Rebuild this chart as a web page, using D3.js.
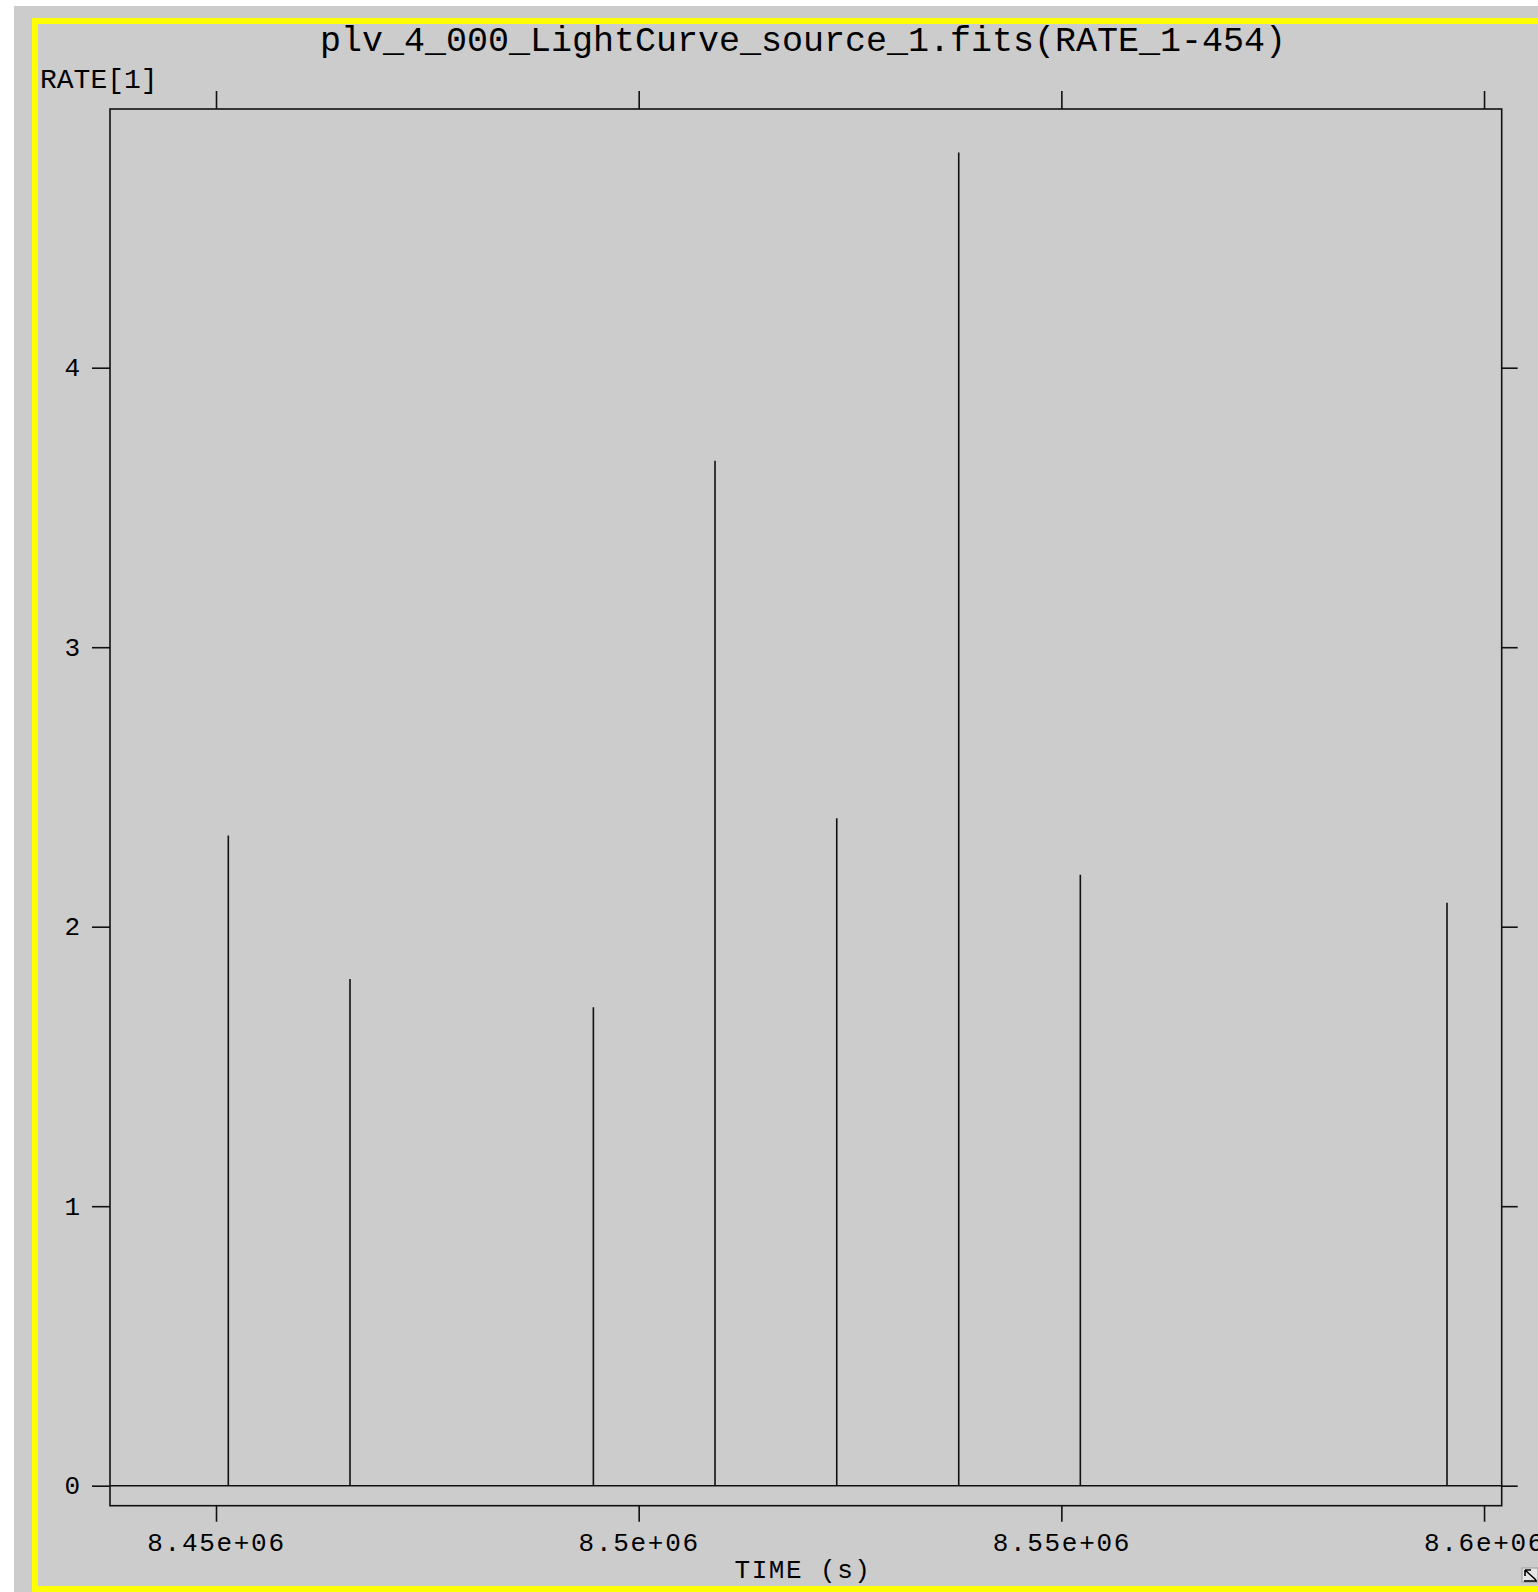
<!DOCTYPE html>
<html>
<head>
<meta charset="utf-8">
<script src="https://cdn.jsdelivr.net/npm/d3@7"></script>
<style>
  html, body { margin: 0; padding: 0; background: #ffffff; }
  svg { display: block; }
</style>
</head>
<body>
<script>
// ---- Data ----
const title = "plv_4_000_LightCurve_source_1.fits(RATE_1-454)";
const yLabel = "RATE[1]";
const xLabel = "TIME (s)";
const time = [8451455, 8465850, 8494640, 8509030, 8523430, 8537860, 8552245, 8595620];
const rate = [2.326, 1.813, 1.712, 3.667, 2.388, 4.770, 2.186, 2.086];
const xTickValues = [8.45e6, 8.5e6, 8.55e6, 8.6e6];
const xTickLabels = ["8.45e+06", "8.5e+06", "8.55e+06", "8.6e+06"];
const yTickValues = [0, 1, 2, 3, 4];
const yTickLabels = ["0", "1", "2", "3", "4"];

const W = 1538, H = 1592;
const font = "'Liberation Mono', 'DejaVu Sans Mono', monospace";

const svg = d3.select("body").append("svg").attr("width", W).attr("height", H);

// background: white strips top/left, gray panel
svg.append("rect").attr("x", 0).attr("y", 0).attr("width", W).attr("height", H).attr("fill", "#ffffff");
svg.append("rect").attr("x", 14).attr("y", 6).attr("width", W - 14).attr("height", H - 6).attr("fill", "#cccccc");
// yellow border
svg.append("rect").attr("x", 35).attr("y", 21).attr("width", 1520).attr("height", 1568)
  .attr("fill", "none").attr("stroke", "#ffff00").attr("stroke-width", 6);

// plot frame
const L = 110, R = 1501.7, T = 109, B = 1505.7;
const x = d3.scaleLinear().domain([8437460, 8602090]).range([L, R]);
const y = d3.scaleLinear().domain([-0.0716, 4.9256]).range([B, T]);

// title & labels
svg.append("text").attr("x", 803).attr("y", 51).attr("text-anchor", "middle")
  .attr("font-family", font).attr("font-size", 35).attr("fill", "#000").text(title);
svg.append("text").attr("x", 40).attr("y", 88)
  .attr("font-family", font).attr("font-size", 28).attr("fill", "#000").text(yLabel);
svg.append("text").attr("x", 803).attr("y", 1578).attr("text-anchor", "middle")
  .attr("font-family", font).attr("font-size", 26).attr("letter-spacing", 1.5).attr("fill", "#000").text(xLabel);

const strokeCol = "#111";
const sw = 1.6;

function styleAxis(g) {
  g.select(".domain").remove();
  g.selectAll(".tick line").attr("stroke", strokeCol).attr("stroke-width", sw);
  g.selectAll(".tick text").attr("font-family", font).attr("font-size", 26).attr("fill", "#000");
}

// left axis
svg.append("g").attr("transform", `translate(${L},0)`)
  .call(d3.axisLeft(y).tickValues(yTickValues).tickSize(18).tickPadding(12)
    .tickFormat((d, i) => yTickLabels[i]))
  .call(styleAxis)
  .call(g => g.selectAll(".tick text").attr("dy", null).attr("y", 8));
// right axis
svg.append("g").attr("transform", `translate(${R},0)`)
  .call(d3.axisRight(y).tickValues(yTickValues).tickSize(16).tickFormat(""))
  .call(styleAxis);
// top axis
svg.append("g").attr("transform", `translate(0,${T})`)
  .call(d3.axisTop(x).tickValues(xTickValues).tickSize(18).tickFormat(""))
  .call(styleAxis);
// bottom axis
svg.append("g").attr("transform", `translate(0,${B})`)
  .call(d3.axisBottom(x).tickValues(xTickValues).tickSize(16)
    .tickFormat((d, i) => xTickLabels[i]))
  .call(styleAxis)
  .call(g => g.selectAll(".tick text").attr("dy", null).attr("y", 45.5).attr("letter-spacing", 1.7));

// frame
svg.append("rect").attr("x", L).attr("y", T).attr("width", R - L).attr("height", B - T)
  .attr("fill", "none").attr("stroke", strokeCol).attr("stroke-width", sw);

// zero baseline across the plot
svg.append("line").attr("x1", L).attr("x2", R).attr("y1", y(0)).attr("y2", y(0))
  .attr("stroke", strokeCol).attr("stroke-width", sw);

// spikes
svg.append("g").selectAll("line").data(time).join("line")
  .attr("x1", d => x(d)).attr("x2", d => x(d))
  .attr("y1", y(0)).attr("y2", (d, i) => y(rate[i]))
  .attr("stroke", strokeCol).attr("stroke-width", sw);

// resize icon bottom-right
const ic = svg.append("g").attr("transform", "translate(1522,1568)");
ic.append("rect").attr("x", 0).attr("y", 0).attr("width", 16).attr("height", 14)
  .attr("fill", "#e6e6e6").attr("stroke", "#9a9a9a").attr("stroke-width", 1);
ic.append("path").attr("d", "M3,2 L14,12 M3,2 L3,8 M3,2 L9,2 M2,13 L15,13")
  .attr("stroke", "#000").attr("stroke-width", 1.6).attr("fill", "none");
</script>
</body>
</html>
